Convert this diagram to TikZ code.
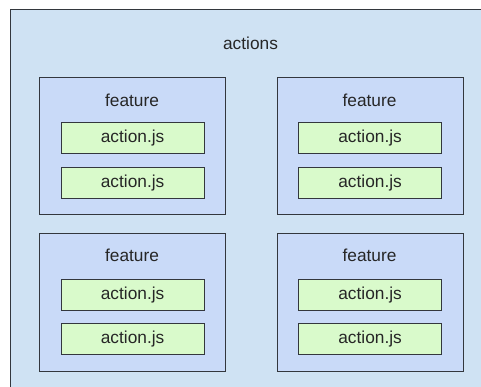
\documentclass[tikz,border=0pt]{standalone}
\usepackage{fontspec}
\setmainfont{Liberation Sans}
\definecolor{outerfill}{HTML}{CFE2F3}
\definecolor{featfill}{HTML}{C9DAF8}
\definecolor{jsfill}{HTML}{D9FACB}
\definecolor{edge}{HTML}{33373D}
\begin{document}
\begin{tikzpicture}[x=1pt,y=-1pt,
  outerbox/.style={draw=edge,line width=1.3pt,fill=outerfill},
  featbox/.style={draw=edge,line width=1.3pt,fill=featfill,minimum width=186pt,minimum height=137pt,inner sep=0pt,anchor=north west},
  jsbox/.style={draw=edge,line width=1.2pt,fill=jsfill,minimum width=143pt,minimum height=31pt,inner sep=0pt,anchor=north west,font=\fontsize{17.3}{19}\selectfont,text=black!85},
  lbl/.style={font=\fontsize{17.3}{19}\selectfont,text=black!85,inner sep=0pt}]
\useasboundingbox (0,0) rectangle (481,387);
\begin{scope}
\clip (0,0) rectangle (481,387);
\draw[outerbox] (10.5,9.5) rectangle (500,400);
\end{scope}
\node[lbl] (title) at (250.5,43) {actions};
% feature boxes
\node[featbox] (f1) at (39,77) {};
\node[featbox] (f2) at (276.5,77) {};
\node[featbox,minimum height=138pt] (f3) at (39,233) {};
\node[featbox,minimum height=138pt] (f4) at (276.5,233) {};
\node[lbl] (t1) at (132,100) {feature};
\node[lbl] (t2) at (369.5,100) {feature};
\node[lbl] (t3) at (132,255.5) {feature};
\node[lbl] (t4) at (369.5,255.5) {feature};
% action boxes
\node[jsbox] (a1) at (60.5,122) {action.js};
\node[jsbox] (a2) at (60.5,167) {action.js};
\node[jsbox] (a3) at (298,122) {action.js};
\node[jsbox] (a4) at (298,167) {action.js};
\node[jsbox] (a5) at (60.5,278.5) {action.js};
\node[jsbox] (a6) at (60.5,323) {action.js};
\node[jsbox] (a7) at (298,278.5) {action.js};
\node[jsbox] (a8) at (298,323) {action.js};
\end{tikzpicture}
\end{document}
